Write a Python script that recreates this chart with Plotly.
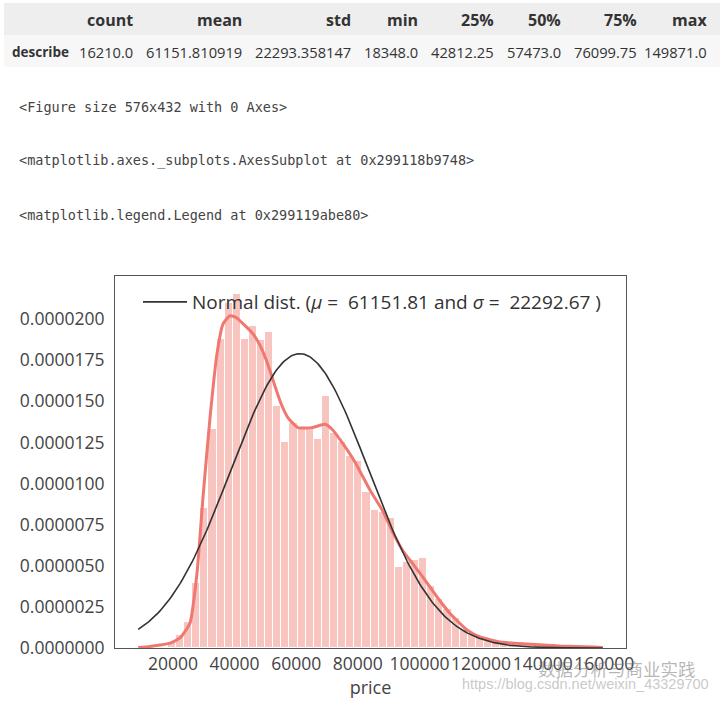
import numpy as np
import plotly.graph_objects as go

# ---- describe() table ----
stat_names = ["count", "mean", "std", "min", "25%", "50%", "75%", "max"]
stat_values = ["16210.0", "61151.810919", "22293.358147", "18348.0",
               "42812.25", "57473.0", "76099.75", "149871.0"]
row_label = "describe"

# ---- notebook text outputs ----
output_lines = [
    "<Figure size 576x432 with 0 Axes>",
    "<matplotlib.axes._subplots.AxesSubplot at 0x299118b9748>",
    "<matplotlib.legend.Legend at 0x299119abe80>",
]

# ---- price distribution ----
price_min = 18348.0
price_max = 149871.0
n_bins = 50
hist_density = [
    3.0e-7, 7.9e-7, 1.58e-6, 3.95e-6, 8.5e-6, 1.33e-5, 1.88e-5, 2.10e-5, 2.15e-5, 1.88e-5,
    1.96e-5, 1.87e-5, 1.92e-5, 1.47e-5, 1.25e-5, 1.37e-5, 1.34e-5, 1.34e-5, 1.27e-5, 1.53e-5,
    1.31e-5, 1.25e-5, 1.17e-5, 1.14e-5, 9.5e-6, 8.4e-6, 8.3e-6, 7.9e-6, 4.9e-6, 5.2e-6,
    5.35e-6, 5.5e-6, 3.8e-6, 3.0e-6, 2.4e-6, 1.8e-6, 1.1e-6, 8.5e-7, 6.0e-7, 4.3e-7,
    3.6e-7, 3.0e-7, 2.4e-7, 2.1e-7, 1.8e-7, 1.5e-7, 1.2e-7, 1.1e-7, 9.0e-8, 6.0e-8,
]

kde_x = [8724, 12546, 15792, 19038, 22284, 25530, 27802, 29750, 32022, 34294,
         36242, 38500, 40500, 43383, 45980, 48252, 50500, 52800, 55000, 57342,
         60588, 65132, 69351, 71623, 74869, 79089, 83958, 88178, 91424, 94670,
         97916, 101162, 105706, 109926, 115444, 119664, 126156, 134920,
         145632, 156343, 159495]
kde_y = [3e-8, 9e-8, 1.8e-7, 3.0e-7, 6.1e-7, 1.52e-6, 4.56e-6, 9.18e-6, 1.40e-5, 1.79e-5,
         1.97e-5, 2.02e-5, 2.01e-5, 1.96e-5, 1.91e-5, 1.84e-5, 1.74e-5, 1.61e-5, 1.49e-5, 1.40e-5,
         1.34e-5, 1.34e-5, 1.36e-5, 1.33e-5, 1.25e-5, 1.13e-5, 9.6e-6, 8.3e-6, 7.0e-6, 5.9e-6,
         5.1e-6, 4.3e-6, 3.1e-6, 2.1e-6, 1.1e-6, 6.7e-7, 3.6e-7, 2.4e-7,
         1.2e-7, 6e-8, 3e-8]

fit_mu = 61151.81
fit_sigma = 22292.67
fit_range = (8724, 159495)

x_ticks = [20000, 40000, 60000, 80000, 100000, 120000, 140000, 160000]
y_ticks = [0, 2.5e-6, 5e-6, 7.5e-6, 1e-5, 1.25e-5, 1.5e-5, 1.75e-5, 2e-5]

W, H = 720, 701
BAR_COLOR = "#F8C4C0"
KDE_COLOR = "#EF7870"
FIT_COLOR = "#333333"
TEXT_COLOR = "#444444"
FONT = "Open Sans"

edges = np.linspace(price_min, price_max, n_bins + 1)
centers = (edges[:-1] + edges[1:]) / 2
bin_w = edges[1] - edges[0]

fit_x = np.linspace(fit_range[0], fit_range[1], 300)
fit_y = np.exp(-0.5 * ((fit_x - fit_mu) / fit_sigma) ** 2) / (fit_sigma * np.sqrt(2 * np.pi))

fig = go.Figure()
fig.add_trace(go.Bar(
    x=centers, y=hist_density, width=bin_w,
    marker=dict(color=BAR_COLOR, line=dict(color="white", width=1)),
    showlegend=False, hoverinfo="skip",
))
fig.add_trace(go.Scatter(
    x=kde_x, y=kde_y, mode="lines",
    line=dict(color=KDE_COLOR, width=3, shape="spline", smoothing=0.5),
    showlegend=False,
))
fig.add_trace(go.Scatter(
    x=fit_x, y=fit_y, mode="lines",
    line=dict(color=FIT_COLOR, width=1.6),
    name="Normal dist. (<i>μ</i> =  %.2f and <i>σ</i> =  %.2f )" % (fit_mu, fit_sigma),
    showlegend=True,
))

px_left, px_right, px_top, px_bot = 115, 626, 276, 648
fig.update_layout(
    width=W, height=H,
    margin=dict(l=0, r=0, t=0, b=0),
    paper_bgcolor="white", plot_bgcolor="white",
    bargap=0,
    font=dict(family=FONT, color=TEXT_COLOR),
    legend=dict(
        x=138 / W, y=1 - 283 / H, xanchor="left", yanchor="top",
        bgcolor="rgba(0,0,0,0)", font=dict(size=19, color="#333333", family=FONT),
        itemwidth=44,
    ),
    xaxis=dict(
        domain=[px_left / W, px_right / W],
        range=[1185, 167034],
        tickmode="array", tickvals=x_ticks, ticktext=[str(v) for v in x_ticks],
        tickfont=dict(size=17.5, color=TEXT_COLOR), tickangle=0,
        showgrid=False, zeroline=False, automargin=False,
        showline=True, mirror=True, linecolor="#555555", linewidth=1,
        ticks="", ticklabelstandoff=0,
        title=dict(text="price", font=dict(size=18, color=TEXT_COLOR), standoff=0),
    ),
    yaxis=dict(
        domain=[1 - px_bot / H, 1 - px_top / H],
        range=[0, 2.262e-5],
        tickmode="array", tickvals=y_ticks, ticktext=["%.7f" % v for v in y_ticks],
        tickfont=dict(size=17.5, color=TEXT_COLOR),
        showgrid=False, zeroline=False, automargin=False,
        showline=True, mirror=True, linecolor="#555555", linewidth=1,
        ticks="", ticklabelstandoff=6,
    ),
)

# table backgrounds
fig.add_shape(type="rect", xref="paper", yref="paper", x0=4 / W, x1=1, y0=1 - 35 / H, y1=1 - 3 / H,
              fillcolor="#eeeeee", line=dict(width=0), layer="below")
fig.add_shape(type="rect", xref="paper", yref="paper", x0=4 / W, x1=1, y0=1 - 67 / H, y1=1 - 35 / H,
              fillcolor="#f7f7f7", line=dict(width=0), layer="below")

col_right = [135, 244, 353, 420, 496, 563, 639, 709]
for name, val, xr in zip(stat_names, stat_values, col_right):
    fig.add_annotation(x=xr / W, y=1 - 20 / H, xref="paper", yref="paper", xanchor="right",
                       yanchor="middle", text="<b>%s</b>" % name, showarrow=False,
                       font=dict(size=16, color="#333333", family=FONT))
    fig.add_annotation(x=xr / W, y=1 - 52 / H, xref="paper", yref="paper", xanchor="right",
                       yanchor="middle", text=val, showarrow=False,
                       font=dict(size=14.7, color="#333333", family=FONT))
fig.add_annotation(x=10 / W, y=1 - 52 / H, xref="paper", yref="paper", xanchor="left",
                   yanchor="middle", text="<b>%s</b>" % row_label, showarrow=False,
                   font=dict(size=13.5, color="#333333", family=FONT))

for line, yy in zip(output_lines, [107, 160, 215]):
    safe = line.replace("<", "&lt;").replace(">", "&gt;")
    fig.add_annotation(x=17 / W, y=1 - yy / H, xref="paper", yref="paper", xanchor="left",
                       yanchor="middle", text=safe, showarrow=False,
                       font=dict(size=13.5, color="#444444", family="DejaVu Sans Mono"))

# blog watermark
fig.add_annotation(x=698 / W, y=1 - 668 / H, xref="paper", yref="paper", xanchor="right",
                   yanchor="middle", text="数据分析与商业实践", showarrow=False,
                   font=dict(size=17.5, color="rgba(110,110,110,0.5)", family="Noto Sans CJK SC"))
fig.add_annotation(x=711 / W, y=1 - 684 / H, xref="paper", yref="paper", xanchor="right",
                   yanchor="middle", text="https://blog.csdn.net/weixin_43329700", showarrow=False,
                   font=dict(size=14.5, color="rgba(195,195,195,0.9)", family="Liberation Sans"))

fig.write_html("out.html")
